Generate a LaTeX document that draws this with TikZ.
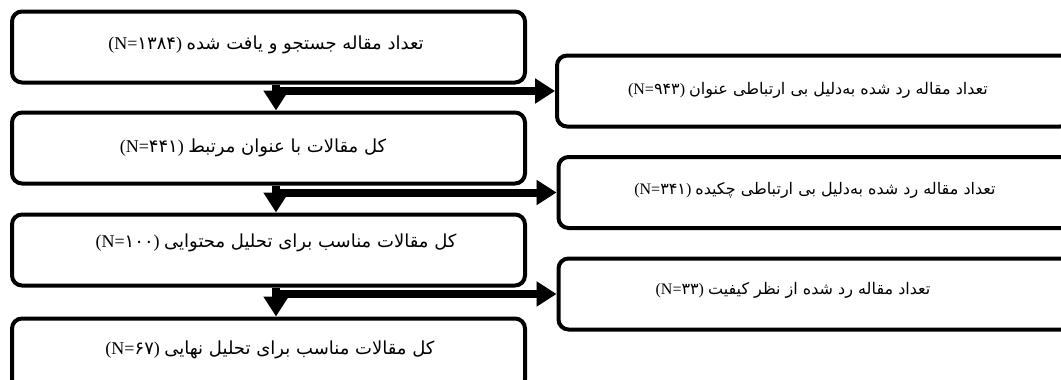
\documentclass[tikz,border=0pt]{standalone}
\usepackage{fontspec}
\setmainfont{Liberation Serif}
\newfontfamily\arabicfont[Script=Arabic]{DejaVu Sans}
\TeXXeTstate=1
\usetikzlibrary{arrows.meta}
\newcommand{\pnum}[1]{{\rmfamily(N=}{\arabicfont #1}{\rmfamily)}\ }
\tikzset{
  box/.style={draw=black, line width=4pt, rounded corners=10pt, fill=white,
    minimum width=513pt, minimum height=71pt, inner sep=0pt},
  ltext/.style={font=\fontsize{18}{21}\selectfont, inner sep=0pt},
  rtext/.style={font=\fontsize{16}{19}\selectfont, inner sep=0pt},
  arr/.style={line width=8pt, draw=black, -{Triangle[length=20pt,width=24pt]}},
  shd/.style={line width=8pt, draw=black!18, -{Triangle[length=20pt,width=24pt]}},
}
\begin{document}
\begin{tikzpicture}[x=1pt,y=-1pt]
\useasboundingbox (0,0) rectangle (1061,380);
\begin{scope}
\clip (0,0) rectangle (1061,380);
% left column
\node[box] (b1) at (268.5,47) {};
\node[box] (b2) at (268.5,148) {};
\node[box] (b3) at (268.5,250) {};
\node[box] (b4) at (268.5,354) {};
% right column
\node[box] (r1) at (813.5,91) {};
\node[box] (r2) at (815,192.5) {};
\node[box] (r3) at (815,294) {};
\end{scope}
% texts
\node[ltext] (t1) at (266,45) {\pnum{۱۳۸۴}{\arabicfont\beginR تعداد مقاله جستجو و یافت شده\endR}};
\node[ltext] (t2) at (253,148) {\pnum{۴۴۱}{\arabicfont\beginR کل مقالات با عنوان مرتبط\endR}};
\node[ltext] (t3) at (276,243) {\pnum{۱۰۰}{\arabicfont\beginR کل مقالات مناسب برای تحلیل محتوایی\endR}};
\node[ltext] (t4) at (270,350) {\pnum{۶۷}{\arabicfont\beginR کل مقالات مناسب برای تحلیل نهایی\endR}};
\node[rtext] (s1) at (808,90) {\pnum{۹۴۳}{\arabicfont\beginR تعداد مقاله رد شده به‌دلیل بی ارتباطی عنوان\endR}};
\node[rtext] (s2) at (815,190) {\pnum{۳۴۱}{\arabicfont\beginR تعداد مقاله رد شده به‌دلیل بی ارتباطی چکیده\endR}};
\node[rtext] (s3) at (793,290) {\pnum{۳۳}{\arabicfont\beginR تعداد مقاله رد شده از نظر کیفیت\endR}};
% connectors
\coordinate (v1) at ([xshift=7.5pt]b1.south);
\coordinate (v2) at ([xshift=7.5pt]b2.south);
\coordinate (v3) at ([xshift=7.5pt]b3.south);
% soft shadows
\begin{scope}[shift={(1.5,3)}]
\draw[shd] (v1 |- r1.west) -- (r1.west);
\draw[shd] (v2 |- r2.west) -- (r2.west);
\draw[shd] (v3 |- r3.west) -- (r3.west);
\end{scope}
\draw[arr] (v1) -- (v1 |- b2.north);
\draw[arr] (v2) -- (v2 |- b3.north);
\draw[arr] (v3) -- (v3 |- b4.north);
\draw[arr] (v1 |- r1.west) -- (r1.west);
\draw[arr] (v2 |- r2.west) -- (r2.west);
\draw[arr] (v3 |- r3.west) -- (r3.west);
\end{tikzpicture}
\end{document}
